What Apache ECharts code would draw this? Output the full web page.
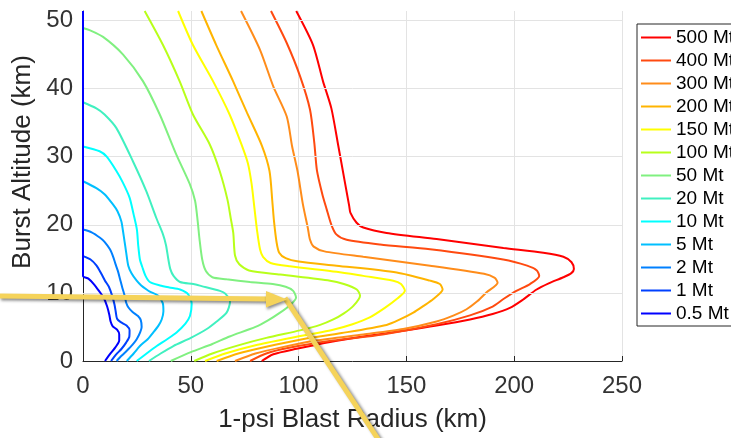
<!DOCTYPE html>
<html>
<head>
<meta charset="utf-8">
<script src="https://cdn.jsdelivr.net/npm/echarts@6/dist/echarts.min.js"></script>
<style>
html,body{margin:0;padding:0;background:#fff;}
#chart{width:731px;height:438px;}
</style>
</head>
<body>
<div id="chart"></div>
<script>
// ---- data: [1-psi blast radius (km), burst altitude (km)] ----
var yieldNames = ['500 Mt','400 Mt','300 Mt','200 Mt','150 Mt','100 Mt','50 Mt','20 Mt','10 Mt','5 Mt','2 Mt','1 Mt','0.5 Mt'];
var yieldColors = ['#FF0000','#FF4A10','#FF8C1A','#FFB400','#FFFF00','#B8FF1A','#80F080','#40F0C0','#00FFFF','#00BFFF','#0080FF','#0040FF','#0000FF'];
var xTicks = [0,50,100,150,200,250];
var yTicks = [0,10,20,30,40,50];
var yTop = 51.4;

var mt500 = [[82.9,0],[88.3,1.0],[99.1,1.8],[114.6,2.8],[130,3.6],[150,4.5],[164,5.2],[179.5,6.1],[190,6.9],[198,7.8],[204,9.0],[210.4,10.5],[216,11.4],[222.8,12.3],[226.5,12.9],[227.7,13.5],[226.6,14.5],[222.8,15.3],[213.5,15.9],[195,16.6],[164,17.9],[140.8,18.8],[130,19.6],[126.9,20.3],[124,21.8],[123.5,22.7],[121.5,26.2],[118.3,31.8],[115.2,37.1],[111.3,41.1],[106.7,46.4],[98.9,51.4]];
var mt400 = [[77.5,0],[85,1.1],[95,1.9],[116,3.0],[139,3.9],[164,5.4],[179.5,6.7],[190,8.0],[195,9.1],[201,10.3],[207.3,11.3],[211.6,12.5],[210.5,13.3],[206,14.0],[194.9,14.9],[161,16.4],[137.8,17.1],[122.3,17.8],[117.5,18.6],[115.2,20],[113,22.3],[111,24.5],[108.5,28],[107.3,32],[105.3,36.9],[100.7,41.8],[94.5,46.7],[87.2,51.4]];
var mt300 = [[70.5,0],[80,1.1],[92,2.0],[108,3.0],[130,3.9],[148.5,4.7],[164,5.8],[172,6.7],[177.9,7.6],[183,8.8],[187.2,10.1],[192.3,11.5],[191,12.2],[186,12.8],[161,14],[130,15.3],[112,16.1],[107,16.8],[105.3,17.8],[104.3,19.5],[102,23],[99.5,27.9],[97,31.5],[94.5,35.9],[88.3,40.3],[82.1,45.7],[73.3,51.4]];
var mt200 = [[62,0],[72,1.1],[85,2.1],[100,3.1],[120,4.1],[140.8,5.3],[147,6.1],[153.2,7.1],[158,8.1],[162.5,9.1],[166.8,10.5],[165.5,11.3],[161,11.8],[145.5,13],[117.6,14],[100,14.6],[94,15.1],[91,15.9],[89.8,17.4],[88.6,20.5],[87.8,23.5],[86.5,27.9],[83,31.6],[76,36.5],[69.6,41.1],[61.8,46.4],[54.9,51.4]];
var mt150 = [[56.6,0],[66,1.1],[80,2.3],[95,3.3],[116,4.6],[125,5.4],[133,6.4],[140,7.8],[145.5,9.1],[149.3,10.3],[147.5,11.3],[143.9,11.8],[130,12.5],[117.6,13.1],[96,13.9],[87,14.4],[83.5,15.3],[82.1,16.4],[80.8,19],[79.5,22.5],[78.2,26],[76.5,29],[73.5,31.8],[68,36.2],[60.3,41.1],[51,46.4],[44.1,51.4]];
var mt100 = [[51.6,0],[60,1.1],[72,2.3],[85,3.4],[100.6,4.5],[110,5.3],[116.1,6.1],[121,7.0],[125.4,8.1],[128.5,9.6],[127,10.5],[121,11.3],[114.6,11.8],[91.4,12.7],[77,13.3],[72.5,14.2],[70.5,15.5],[69.7,18.8],[68.5,21],[67,23.7],[63.4,27.9],[58.8,31.8],[51,36.2],[44.8,41.1],[37.1,46.4],[28.6,51.4]];
var mt50 = [[40.7,0],[50,1.3],[60,2.5],[68,3.6],[80,5.0],[86,6.0],[91.4,7.1],[96,8.2],[98.8,9.3],[97.5,10.3],[94,10.9],[88,11.3],[77.5,11.6],[66.6,12],[60,12.3],[57,13.2],[55.3,14.9],[54,18],[53.2,20.5],[52,23.5],[49.5,26],[43.3,30.3],[35.6,36.2],[27.8,41.1],[18.6,45],[9.3,47.6],[3,48.6],[0,48.9]];
var mt20 = [[30.6,0],[36,1.1],[41.9,2.2],[50,3.4],[57.4,4.7],[62,5.8],[66.6,7.1],[68.2,8.7],[66,9.9],[63.5,10.3],[55,11.0],[51.2,11.3],[45,11.6],[42,12.5],[40.5,13.5],[39.6,14.9],[38.5,17],[37.1,18.6],[34,21],[29.4,24.9],[23.2,29.3],[15.5,34.2],[10,36.2],[6.2,37.1],[0,38]];
var mt10 = [[24.9,0],[29.5,1.1],[34.2,2.2],[39,3.2],[43.4,4.2],[47.5,5.5],[49.6,6.6],[50.4,8.4],[48.8,9.8],[45,10.5],[40,10.8],[35.7,11.1],[31,11.6],[29,12.5],[27.5,13.8],[26.4,14.9],[25.6,17],[25,19.3],[23.5,21.5],[21.6,24],[18.5,26.2],[15.5,27.9],[11,30],[7.7,30.8],[0,31.5]];
var mt5 = [[20.3,0],[23.5,1.1],[26.4,2.2],[30,3.2],[32.6,4.2],[35,5.2],[36.5,6.1],[37.3,7.3],[37,8.5],[34.9,9.6],[31,10.2],[29.5,10.5],[27,11.1],[24.9,11.8],[22.5,12.9],[21,14],[20,16],[19.3,17.5],[18.5,19.2],[17.8,20.5],[16,22],[13.9,23],[10,24.5],[6.2,25.4],[0,26.4]];
var mt2 = [[15.6,0],[18,0.8],[20.3,1.5],[23,2.4],[24.9,3.2],[26.5,4.2],[27.2,5.0],[26.8,6.0],[25.5,6.6],[23,7.2],[21,7.9],[20,8.6],[19.3,9.6],[18.2,10.8],[17.2,12],[16.2,13.2],[15,14.3],[14,15.3],[12.5,16.4],[10,17.5],[7.9,18.1],[4,18.9],[0,19.3]];
var mt1 = [[13,0],[15.5,1.0],[17.9,1.8],[20,2.7],[21.5,3.6],[21.6,4.5],[20.2,5.2],[17.5,5.7],[15.8,6.2],[15.2,7.2],[14.6,8.3],[13.5,9.6],[12,10.9],[10.2,11.8],[8.5,12.8],[6.3,14],[3.5,14.9],[0,15.4]];
var mt05 = [[10.2,0],[12.5,1.0],[15,2.0],[16.8,3.0],[16.8,3.9],[15.8,4.6],[13.8,5.1],[12.8,5.8],[12.2,6.8],[11.2,8.0],[9.6,9.3],[7.4,10.3],[5,11.3],[2.5,12.1],[0,12.5],[0,51.4]];

var allData = [mt500,mt400,mt300,mt200,mt150,mt100,mt50,mt20,mt10,mt5,mt2,mt1,mt05];

var FONT = '"Liberation Sans", Arial, Helvetica, sans-serif';
var chart = echarts.init(document.getElementById('chart'), null, {renderer:'canvas'});

var series = [{
  name: '__grid', type: 'line', data: [], z: 1, silent: true,
  markLine: {
    silent: true, symbol: ['none','none'], label: {show:false},
    lineStyle: {color:'#e3e3e3', width:1, type:'solid'},
    emphasis: {disabled: true},
    data: yTicks.filter(function(v){return v>0;}).map(function(v){return {yAxis: v};})
  }
}];
yieldNames.forEach(function(n, i){
  series.push({
    name: n, type: 'line', data: allData[i], smooth: 0.25,
    symbol: 'none', showSymbol: false, z: 2 + i,
    lineStyle: {color: yieldColors[i], width: 2},
    itemStyle: {color: yieldColors[i]},
    emphasis: {disabled: true}
  });
});

var option = {
  animation: false,
  backgroundColor: '#ffffff',
  grid: {left: 83, right: 109, top: 11, bottom: 76, containLabel: false},
  xAxis: {
    type: 'value', min: xTicks[0], max: xTicks[xTicks.length-1], interval: 50,
    name: '1-psi Blast Radius (km)', nameLocation: 'middle', nameGap: 46,
    nameTextStyle: {fontFamily: FONT, fontSize: 26, color: '#262626'},
    axisLine: {show: true, lineStyle: {color:'#262626', width: 1}},
    axisTick: {show: true, inside: true, length: 5, lineStyle: {color:'#262626'}},
    axisLabel: {fontFamily: FONT, fontSize: 24, color: '#333333', margin: 13},
    splitLine: {show: true, lineStyle: {color:'#e3e3e3', width: 1}}
  },
  yAxis: {
    type: 'value', min: yTicks[0], max: yTop, interval: 10,
    name: 'Burst Altitude (km)', nameLocation: 'middle', nameGap: 41, nameRotate: 90,
    nameTextStyle: {fontFamily: FONT, fontSize: 26, color: '#262626', padding: [0,0,0,48]},
    axisLine: {show: true, lineStyle: {color:'#262626', width: 1}},
    axisTick: {show: false},
    axisLabel: {fontFamily: FONT, fontSize: 24, color: '#333333', margin: 10, showMaxLabel: false},
    splitLine: {show: false}
  },
  legend: {
    data: yieldNames,
    orient: 'vertical', left: 637, top: 24,
    padding: [4, 6, 3, 4],
    icon: 'path://M0,0L30,0L30,2L0,2Z',
    itemGap: 4, itemWidth: 30, itemHeight: 14, itemTextGap: 3,
    backgroundColor: '#ffffff', borderColor: '#262626', borderWidth: 1, borderRadius: 0,
    textStyle: {fontFamily: FONT, fontSize: 19, color: '#000000', lineHeight: 19},
    selectedMode: false
  },
  series: series,
  graphic: [
    {type:'polyline', z: 100, silent: true,
     shape:{points:[[0,296],[268,299]]},
     style:{stroke:'#F5D35A', lineWidth:5, fill:null, shadowBlur:3, shadowColor:'rgba(0,0,0,0.45)', shadowOffsetX:1, shadowOffsetY:2}},
    {type:'polygon', z: 101, silent: true,
     shape:{points:[[266,291],[287,299.5],[266,307.5]]},
     style:{fill:'#F5D35A', shadowBlur:3, shadowColor:'rgba(0,0,0,0.45)', shadowOffsetX:1, shadowOffsetY:2}},
    {type:'polyline', z: 100, silent: true,
     shape:{points:[[285,298],[380,442]]},
     style:{stroke:'#F5D35A', lineWidth:5, fill:null, shadowBlur:3, shadowColor:'rgba(0,0,0,0.45)', shadowOffsetX:2, shadowOffsetY:1}}
  ]
};
chart.setOption(option);
</script>
</body>
</html>
